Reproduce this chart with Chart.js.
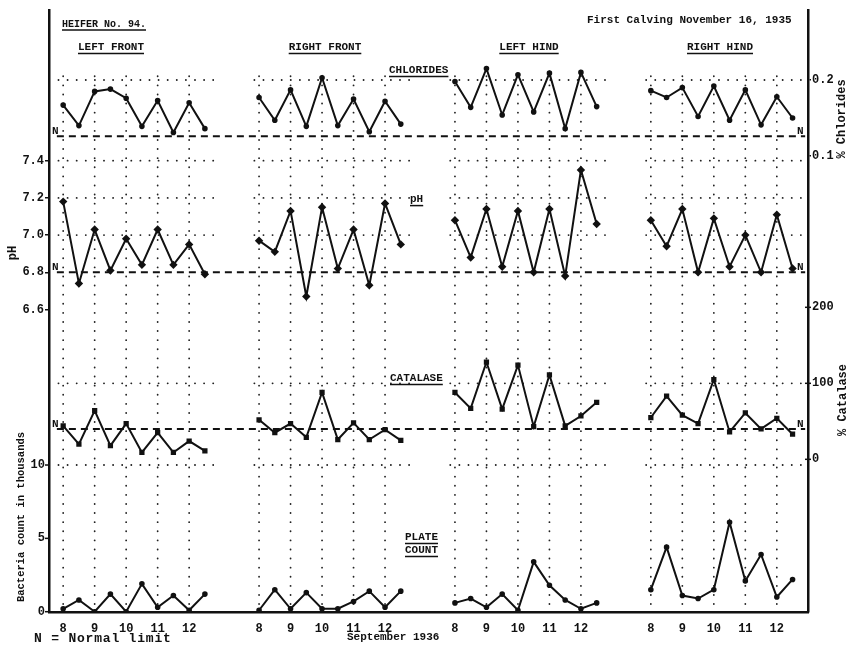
<!DOCTYPE html>
<html>
<head>
<meta charset="utf-8">
<script src="https://cdn.jsdelivr.net/npm/chart.js@4.4.1/dist/chart.umd.min.js"></script>
<style>
  html, body { margin: 0; padding: 0; background: #fff; }
  canvas { display: block; }
</style>
</head>
<body>
<canvas id="chart" width="848" height="646"></canvas>
<script>
// quarters of the udder, each one its own block on the shared x axis
const panels = ['LEFT FRONT', 'RIGHT FRONT', 'LEFT HIND', 'RIGHT HIND']
const days = [8, 8.5, 9, 9.5, 10, 10.5, 11, 11.5, 12, 12.5]
const dayTicks = [8, 9, 10, 11, 12]
const panelGap = 6.22

const chlorides = [
    [0.167, 0.140, 0.185, 0.188, 0.176, 0.139, 0.173, 0.131, 0.170, 0.136],
    [0.177, 0.147, 0.187, 0.139, 0.203, 0.140, 0.175, 0.132, 0.172, 0.142],
    [0.198, 0.164, 0.215, 0.154, 0.207, 0.158, 0.209, 0.136, 0.210, 0.165],
    [0.186, 0.177, 0.190, 0.152, 0.192, 0.147, 0.187, 0.141, 0.178, 0.150]
]
const ph = [
    [7.18, 6.74, 7.03, 6.81, 6.98, 6.84, 7.03, 6.84, 6.95, 6.79],
    [6.97, 6.91, 7.13, 6.67, 7.15, 6.82, 7.03, 6.73, 7.17, 6.95],
    [7.08, 6.88, 7.14, 6.83, 7.13, 6.80, 7.14, 6.78, 7.35, 7.06],
    [7.08, 6.94, 7.14, 6.80, 7.09, 6.83, 7.00, 6.80, 7.11, 6.82]
]
const catalase = [
    [44, 20, 64, 18, 47, 9, 35, 9, 24, 11],
    [52, 35, 47, 29, 88, 26, 48, 26, 39, 25],
    [88, 67, 128, 66, 124, 43, 111, 44, 57, 75],
    [55, 83, 58, 47, 105, 36, 61, 40, 54, 33]
]
const plateCount = [
    [0.2, 0.8, 0, 1.2, 0, 1.9, 0.3, 1.1, 0.1, 1.2],
    [0.1, 1.5, 0.2, 1.3, 0.2, 0.2, 0.7, 1.4, 0.3, 1.4],
    [0.6, 0.9, 0.3, 1.2, 0.1, 3.4, 1.8, 0.8, 0.2, 0.6],
    [1.5, 4.4, 1.1, 0.9, 1.5, 6.1, 2.1, 3.9, 1.0, 2.2]
]

const normalChlorides = 0.126
const normalPh = 6.8
const normalCatalase = 40

const phTicks = [6.6, 6.8, 7.0, 7.2, 7.4]
const countTicks = [0, 5, 10]
const chlorideTicks = [0.1, 0.2]
const catalaseTicks = [0, 100, 200]

const FONT = 'Liberation Mono'
const INK = '#111'

const series = [
    {values: chlorides, axis: 'yChl', style: 'circle', radius: 1.8},
    {values: ph, axis: 'yPh', style: 'rectRot', radius: 2.8},
    {values: catalase, axis: 'yCat', style: 'rect', radius: 2.3},
    {values: plateCount, axis: 'yCount', style: 'circle', radius: 1.8}
]

const datasets = []
series.forEach(s => {
    s.values.forEach((row, p) => {
        datasets.push({
            data: row.map((v, i) => ({x: days[i] + p * panelGap, y: v})),
            yAxisID: s.axis,
            borderColor: INK,
            backgroundColor: INK,
            borderWidth: 2,
            pointStyle: s.style,
            pointRadius: s.radius,
            tension: 0
        })
    })
})

// normal limits run across the whole sheet
const normalFrom = 7.8
const normalTo = 7.8 + 3 * panelGap + 5.1
;[[normalChlorides, 'yChl'], [normalPh, 'yPh'], [normalCatalase, 'yCat']].forEach(([v, axis]) => {
    datasets.push({
        data: [{x: normalFrom, y: v}, {x: normalTo, y: v}],
        yAxisID: axis,
        borderColor: INK,
        borderWidth: 2,
        borderDash: [7, 5],
        pointRadius: 0
    })
})

function line(ctx, x0, y0, x1, y1) {
    ctx.beginPath()
    ctx.moveTo(x0, y0)
    ctx.lineTo(x1, y1)
    ctx.stroke()
}

const paperGrid = {
    id: 'paperGrid',
    beforeDatasetsDraw(chart) {
        const {ctx, chartArea, scales} = chart
        const levels = [['yChl', 0.2], ['yPh', 7.4], ['yPh', 7.2], ['yPh', 7.0], ['yCat', 100], ['yCount', 10]]
        ctx.save()
        ctx.strokeStyle = '#222'
        ctx.lineWidth = 1.8
        ctx.lineCap = 'round'
        ctx.setLineDash([0.1, 9])
        const top = scales.yChl.getPixelForValue(0.205)
        panels.forEach((name, p) => {
            dayTicks.forEach(d => {
                const x = scales.x.getPixelForValue(d + p * panelGap)
                line(ctx, x, top, x, chartArea.bottom - 3)
            })
            const x0 = scales.x.getPixelForValue(7.85 + p * panelGap)
            const x1 = scales.x.getPixelForValue(12.8 + p * panelGap)
            levels.forEach(([axis, v]) => {
                const y = scales[axis].getPixelForValue(v)
                line(ctx, x0, y, x1, y)
            })
        })
        ctx.restore()
    }
}

function text(ctx, str, x, y, opts = {}) {
    const size = opts.size || 11
    ctx.save()
    ctx.font = 'bold ' + size + 'px "' + FONT + '"'
    ctx.fillStyle = INK
    ctx.textBaseline = 'middle'
    ctx.textAlign = opts.align || 'left'
    if (opts.spacing) ctx.letterSpacing = opts.spacing
    ctx.translate(x, y)
    if (opts.rotate) ctx.rotate(opts.rotate)
    ctx.fillText(str, 0, 0)
    if (opts.underline) {
        const w = ctx.measureText(str).width
        let left = 0
        if (ctx.textAlign === 'center') left = -w / 2
        if (ctx.textAlign === 'right') left = -w
        ctx.strokeStyle = INK
        ctx.lineWidth = 1.5
        line(ctx, left, size * 0.6, left + w, size * 0.6)
    }
    ctx.restore()
}

const sheetText = {
    id: 'sheetText',
    afterDraw(chart) {
        const {ctx, scales} = chart
        text(ctx, 'HEIFER No. 94.', 62, 24, {size: 10, underline: true})
        text(ctx, 'First Calving November 16, 1935', 587, 20, {size: 11})
        const titleX = [111, 325, 529, 720]
        panels.forEach((name, p) => text(ctx, name, titleX[p], 47, {align: 'center', underline: true}))
        text(ctx, 'CHLORIDES', 389, 70, {underline: true})
        text(ctx, 'pH', 410, 199, {underline: true})
        text(ctx, 'CATALASE', 390, 378, {underline: true})
        text(ctx, 'PLATE', 405, 537, {underline: true})
        text(ctx, 'COUNT', 405, 550, {underline: true})

        text(ctx, 'N = Normal limit', 34, 639, {size: 13, spacing: '0.8px'})
        text(ctx, 'September 1936', 347, 637, {size: 11})

        text(ctx, 'pH', 13, 253, {size: 12, align: 'center', rotate: -Math.PI / 2})
        text(ctx, 'Bacteria count in thousands', 21, 517, {size: 10.5, align: 'center', rotate: -Math.PI / 2})
        text(ctx, '% Chlorides', 842, 119, {size: 12, align: 'center', rotate: -Math.PI / 2})
        text(ctx, '% Catalase', 843, 400, {size: 12, align: 'center', rotate: -Math.PI / 2})

        ;[['yChl', normalChlorides], ['yPh', normalPh], ['yCat', normalCatalase]].forEach(([axis, v]) => {
            const y = scales[axis].getPixelForValue(v) - 5
            text(ctx, 'N', 52, y, {size: 11})
            text(ctx, 'N', 797, y, {size: 11})
        })

        // second scales on each side share the axis line
        ctx.save()
        ctx.strokeStyle = INK
        ctx.lineWidth = 1.5
        countTicks.forEach(v => {
            const y = scales.yCount.getPixelForValue(v)
            text(ctx, String(v), 45, y, {size: 12, align: 'right'})
            line(ctx, 45, y, 49, y)
        })
        catalaseTicks.forEach(v => {
            const y = scales.yCat.getPixelForValue(v)
            text(ctx, String(v), 812, y, {size: 12})
            line(ctx, 805, y, 811, y)
        })
        ctx.restore()
    }
}

const tickFont = {family: FONT, weight: 'bold', size: 12}

new Chart(document.getElementById('chart'), {
    type: 'line',
    data: {datasets: datasets},
    plugins: [paperGrid, sheetText],
    options: {
        responsive: false,
        animation: false,
        layout: {padding: {top: 10}},
        plugins: {legend: {display: false}, tooltip: {enabled: false}},
        scales: {
            x: {
                type: 'linear',
                min: 7.55,
                max: 31.65,
                afterFit: s => { s.height = 34 },
                afterBuildTicks: s => {
                    s.ticks = []
                    panels.forEach((name, p) => dayTicks.forEach(d => s.ticks.push({value: d + p * panelGap})))
                },
                grid: {display: false},
                border: {color: INK, width: 2.5},
                ticks: {
                    autoSkip: false,
                    maxRotation: 0,
                    padding: 2,
                    color: INK,
                    font: tickFont,
                    callback: v => Math.round(v - Math.round((v - 10) / panelGap) * panelGap)
                }
            },
            yPh: {
                type: 'linear',
                position: 'left',
                min: 4.974,
                max: 8.21,
                afterFit: s => { s.width = 49 },
                afterBuildTicks: s => { s.ticks = phTicks.map(v => ({value: v})) },
                grid: {drawOnChartArea: false, tickLength: 4, color: INK, lineWidth: 1.5},
                border: {color: INK, width: 2.5},
                ticks: {padding: 1, color: INK, font: tickFont, callback: v => v.toFixed(1)}
            },
            yChl: {
                type: 'linear',
                position: 'right',
                min: -0.5,
                max: 0.2921,
                afterFit: s => { s.width = 40 },
                afterBuildTicks: s => { s.ticks = chlorideTicks.map(v => ({value: v})) },
                grid: {drawOnChartArea: false, tickLength: 3, color: INK, lineWidth: 1.5},
                border: {color: INK, width: 2.5},
                ticks: {padding: 1, color: INK, font: tickFont, callback: v => v.toFixed(1)}
            },
            yCat: {type: 'linear', display: false, min: -200.9, max: 591.2},
            yCount: {type: 'linear', display: false, min: -0.02, max: 41.02}
        }
    }
})
</script>
</body>
</html>
